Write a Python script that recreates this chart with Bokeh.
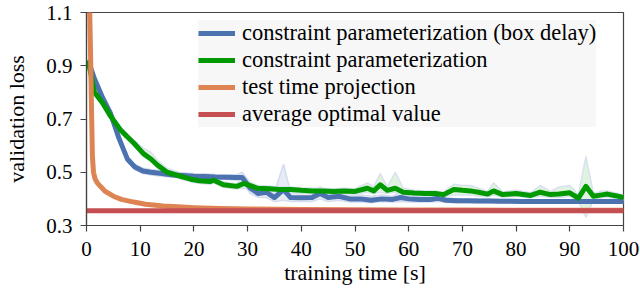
from bokeh.plotting import figure
from bokeh.models import Legend, LegendItem, FixedTicker
from bokeh.embed import file_html
from bokeh.resources import INLINE

# ---------------- data ----------------
box_x = [0.3, 1.5, 3, 4.5, 6, 7.6, 9, 10.5, 12, 14, 16, 18, 20, 22, 24, 26, 28, 29,
         30.5, 32, 33.5, 35, 36.7, 38, 40, 42, 43.5, 45, 47, 49, 51, 53, 55, 57, 58.5,
         60, 62, 64, 65.5, 67, 69, 71, 73, 75, 77, 79, 81, 83, 85, 87, 89, 91, 93, 95, 97, 100]
box_y = [0.92, 0.85, 0.78, 0.72, 0.63, 0.55, 0.52, 0.505, 0.50, 0.495, 0.49, 0.488, 0.485,
         0.484, 0.482, 0.481, 0.48, 0.48, 0.44, 0.42, 0.425, 0.405, 0.435, 0.405, 0.404,
         0.405, 0.42, 0.405, 0.41, 0.40, 0.40, 0.395, 0.40, 0.398, 0.405, 0.40, 0.398, 0.398,
         0.402, 0.395, 0.393, 0.393, 0.392, 0.392, 0.391, 0.391, 0.39, 0.39, 0.39, 0.39,
         0.39, 0.39, 0.39, 0.39, 0.39, 0.39]
box_lo = [0.915, 0.84, 0.77, 0.71, 0.62, 0.54, 0.51, 0.495, 0.49, 0.485, 0.482, 0.48, 0.478,
          0.476, 0.474, 0.473, 0.47, 0.46, 0.42, 0.405, 0.405, 0.39, 0.395, 0.39, 0.39,
          0.39, 0.40, 0.39, 0.395, 0.388, 0.388, 0.385, 0.39, 0.388, 0.39, 0.388, 0.388, 0.388,
          0.39, 0.386, 0.385, 0.385, 0.385, 0.385, 0.385, 0.385, 0.384, 0.384, 0.384, 0.384,
          0.384, 0.384, 0.384, 0.384, 0.384, 0.384]
box_hi = [0.925, 0.86, 0.79, 0.73, 0.64, 0.56, 0.53, 0.515, 0.51, 0.505, 0.50, 0.498, 0.495,
          0.494, 0.492, 0.491, 0.49, 0.50, 0.46, 0.44, 0.445, 0.425, 0.53, 0.425, 0.42,
          0.425, 0.445, 0.425, 0.43, 0.415, 0.415, 0.41, 0.415, 0.41, 0.425, 0.41, 0.41, 0.41,
          0.415, 0.405, 0.40, 0.40, 0.40, 0.40, 0.398, 0.398, 0.397, 0.397, 0.397, 0.397,
          0.397, 0.397, 0.397, 0.397, 0.397, 0.397]

con_x = [0.3, 1.5, 3, 4.5, 6.3, 7.5, 8.8, 10.6, 12, 13.2, 15, 17.5, 19.4, 21, 23, 23.7,
         25.5, 28, 29.3, 31.8, 34, 36, 38, 40, 42, 44, 46, 48, 50, 52.3, 53.5, 54.7, 56,
         57.5, 59, 61, 63, 65, 66.5, 68.4, 70, 71.5, 73, 74.7, 75.8, 77.5, 80, 82.7, 84.5,
         86.4, 88, 90, 91.6, 93, 94.4, 96, 97, 98.5, 100]
con_y = [0.92, 0.80, 0.76, 0.71, 0.66, 0.635, 0.61, 0.57, 0.55, 0.527, 0.50, 0.485, 0.474,
         0.468, 0.465, 0.47, 0.453, 0.447, 0.458, 0.44, 0.438, 0.435, 0.435, 0.432, 0.43,
         0.43, 0.428, 0.43, 0.428, 0.44, 0.43, 0.453, 0.432, 0.44, 0.425, 0.422, 0.42, 0.42,
         0.416, 0.435, 0.432, 0.43, 0.425, 0.418, 0.43, 0.416, 0.42, 0.413, 0.425, 0.416,
         0.418, 0.423, 0.403, 0.447, 0.41, 0.415, 0.418, 0.412, 0.405]
con_lo = [0.915, 0.79, 0.75, 0.70, 0.65, 0.625, 0.60, 0.56, 0.54, 0.515, 0.49, 0.475, 0.464,
          0.458, 0.455, 0.46, 0.443, 0.437, 0.44, 0.43, 0.428, 0.425, 0.425, 0.422, 0.42,
          0.42, 0.418, 0.42, 0.418, 0.425, 0.42, 0.425, 0.42, 0.425, 0.415, 0.412, 0.41, 0.41,
          0.406, 0.415, 0.415, 0.415, 0.41, 0.408, 0.415, 0.406, 0.41, 0.403, 0.41, 0.405,
          0.405, 0.41, 0.39, 0.33, 0.395, 0.405, 0.405, 0.402, 0.395]
con_hi = [0.925, 0.81, 0.77, 0.72, 0.67, 0.645, 0.62, 0.59, 0.575, 0.545, 0.515, 0.497, 0.487,
          0.478, 0.475, 0.48, 0.463, 0.457, 0.475, 0.45, 0.448, 0.445, 0.445, 0.442, 0.44,
          0.44, 0.438, 0.44, 0.438, 0.46, 0.445, 0.495, 0.445, 0.50, 0.44, 0.432, 0.43, 0.43,
          0.426, 0.455, 0.45, 0.45, 0.44, 0.428, 0.46, 0.426, 0.432, 0.423, 0.45, 0.428,
          0.445, 0.45, 0.415, 0.56, 0.42, 0.43, 0.43, 0.422, 0.415]

proj_x = [0.55, 0.75, 0.95, 1.1, 1.3, 1.6, 2.0, 2.6, 3.5, 5, 6.5, 8.8, 11, 14.3, 17, 20, 25,
          30, 40, 50, 60, 70, 80, 90, 100]
proj_y = [1.15, 0.95, 0.72, 0.56, 0.50, 0.475, 0.46, 0.447, 0.428, 0.41, 0.398, 0.388, 0.38,
          0.373, 0.370, 0.367, 0.364, 0.362, 0.360, 0.359, 0.358, 0.358, 0.357, 0.357, 0.357]

opt_x = [0, 100]
opt_y = [0.355, 0.355]

x_ticks = [0, 10, 20, 30, 40, 50, 60, 70, 80, 90, 100]
y_ticks = [0.3, 0.5, 0.7, 0.9, 1.1]

labels = ["constraint parameterization (box delay)",
          "constraint parameterization",
          "test time projection",
          "average optimal value"]

BLUE = "#4c72b0"
GREEN = "#009900"
ORANGE = "#dd8452"
RED = "#c44e52"
FONT = "Liberation Serif"

# ---------------- figure ----------------
p = figure(width=640, height=288, output_backend="svg", toolbar_location=None,
           x_range=(0, 100), y_range=(0.3, 1.1),
           min_border_left=86, min_border_right=17, min_border_top=12, min_border_bottom=63)
p.grid.visible = False
p.outline_line_color = "#444444"
p.outline_line_width = 1.2
p.background_fill_color = "white"

# bands
p.varea(x=box_x, y1=box_lo, y2=box_hi, fill_color="#dbe3f0", fill_alpha=0.7)
p.line(box_x, box_hi, line_color="#d3ddee", line_width=1.5)
p.line(box_x, box_lo, line_color="#d3ddee", line_width=1.5)
p.varea(x=con_x, y1=con_lo, y2=con_hi, fill_color="#d3eed3", fill_alpha=0.7)
p.line(con_x, con_hi, line_color="#d8e1ef", line_width=1.5)
p.line(con_x, con_lo, line_color="#d8e1ef", line_width=1.5)

r_box = p.line(box_x, box_y, line_color=BLUE, line_width=5, line_join="round")
r_con = p.line(con_x, con_y, line_color=GREEN, line_width=5, line_join="round")
r_proj = p.line(proj_x, proj_y, line_color=ORANGE, line_width=5, line_join="round")
r_opt = p.line(opt_x, opt_y, line_color=RED, line_width=5)

# axes
for ax in (p.xaxis[0], p.yaxis[0]):
    ax.axis_line_color = "#444444"
    ax.axis_line_width = 1.2
    ax.major_tick_line_color = "#444444"
    ax.major_tick_line_width = 1.2
    ax.major_tick_out = 6
    ax.major_tick_in = 0
    ax.minor_tick_line_color = None
    ax.major_label_text_font = FONT
    ax.major_label_text_font_size = "21px"
    ax.major_label_text_color = "black"
    ax.axis_label_text_font = FONT
    ax.axis_label_text_font_size = "22px"
    ax.axis_label_text_font_style = "normal"
    ax.axis_label_text_color = "black"

p.xaxis.ticker = FixedTicker(ticks=x_ticks)
p.yaxis.ticker = FixedTicker(ticks=y_ticks)
p.xaxis.major_label_overrides = {t: str(t) for t in x_ticks}
p.yaxis.major_label_overrides = {t: f"{t:.1f}" for t in y_ticks}
p.xaxis.axis_label = "training time [s]"
p.yaxis.axis_label = "validation loss"
p.xaxis.major_label_standoff = 10
p.yaxis.major_label_standoff = 8
p.xaxis.axis_label_standoff = 1
p.yaxis.axis_label_standoff = 14

legend = Legend(items=[LegendItem(label=labels[0], renderers=[r_box]),
                       LegendItem(label=labels[1], renderers=[r_con]),
                       LegendItem(label=labels[2], renderers=[r_proj]),
                       LegendItem(label=labels[3], renderers=[r_opt])],
                location=(112, 98))
legend.label_text_font = FONT
legend.label_text_font_size = "22.5px"
legend.label_text_color = "black"
legend.background_fill_color = "#f7f7f7"
legend.background_fill_alpha = 1.0
legend.border_line_color = None
legend.padding = 9
legend.spacing = 1
legend.label_height = 22
legend.glyph_height = 22
legend.glyph_width = 37
legend.label_standoff = 7
legend.margin = 0
p.add_layout(legend)

open("out.html", "w").write(file_html(p, INLINE))
